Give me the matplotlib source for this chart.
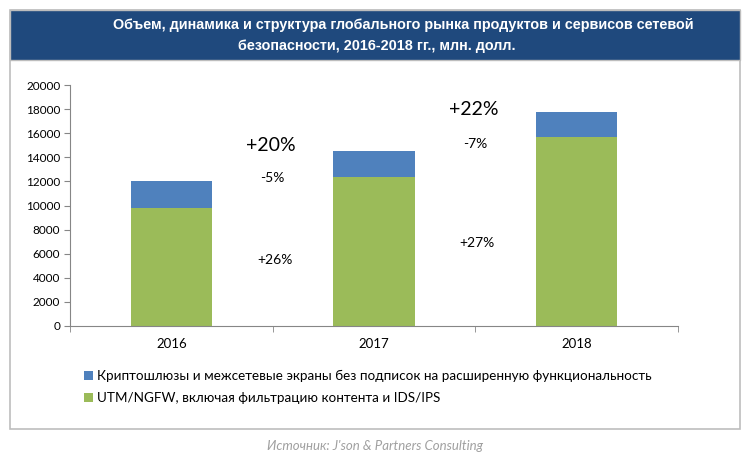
import matplotlib
matplotlib.use("Agg")
import matplotlib.pyplot as plt
from matplotlib.patches import Rectangle

years = ["2016", "2017", "2018"]
utm_ngfw = [9800, 12400, 15700]
crypto_fw = [2250, 2150, 2030]

total_growth = ["+20%", "+22%"]
crypto_growth = ["-5%", "-7%"]
utm_growth = ["+26%", "+27%"]

title_lines = ["Объем, динамика и структура глобального рынка продуктов и сервисов сетевой",
               "безопасности, 2016-2018 гг., млн. долл."]
labels = ["Криптошлюзы и межсетевые экраны без подписок на расширенную функциональность",
          "UTM/NGFW, включая фильтрацию контента и IDS/IPS"]
source = "Источник: J'son & Partners Consulting"

BLUE = "#4f81bd"
GREEN = "#9bbb59"
HEADER = "#1f497d"

plt.rcParams["font.family"] = ["Lato", "DejaVu Sans"]

W, H = 750, 463
fig = plt.figure(figsize=(W / 100, H / 100), dpi=100)

# outer frame and header band
fig.patches.append(Rectangle((10 / W, (H - 429) / H), 730 / W, 419 / H,
                             transform=fig.transFigure, fill=False,
                             edgecolor="#bdbdbd", linewidth=1.2))
fig.patches.append(Rectangle((10 / W, (H - 60) / H), 730 / W, 50 / H,
                             transform=fig.transFigure, facecolor=HEADER,
                             edgecolor="#bdbdbd", linewidth=1.0))
fig.text(403 / W, (H - 25) / H, title_lines[0], color="white", fontsize=10.4, fontweight="bold",
         ha="center", va="center", family=["Liberation Sans"])
fig.text(377 / W, (H - 46) / H, title_lines[1], color="white", fontsize=10.4, fontweight="bold",
         ha="center", va="center", family=["Liberation Sans"])

ax = fig.add_axes([70 / W, (H - 326) / H, 608 / W, 241 / H])
x = list(range(len(years)))
b1 = ax.bar(x, utm_ngfw, width=0.4, color=GREEN, zorder=2)
b2 = ax.bar(x, crypto_fw, width=0.4, bottom=utm_ngfw, color=BLUE, zorder=2)

ax.set_xlim(-0.5, len(years) - 0.5)
ax.set_ylim(0, 20000)
ax.set_yticks(range(0, 20001, 2000))
ax.set_xticks(x)
ax.set_xticklabels(years)
ax.set_xticks([i + 0.5 for i in range(-1, len(years))], minor=True)
ax.tick_params(axis="x", which="major", length=0, pad=9, labelsize=9.5)
ax.tick_params(axis="x", which="minor", length=4, color="#868686")
ax.tick_params(axis="y", length=4, color="#868686", labelsize=8.5, pad=3)
for s in ["top", "right"]:
    ax.spines[s].set_visible(False)
ax.spines["left"].set_color("#868686")
ax.spines["bottom"].set_color("#868686")

# growth annotations between bars
for i in range(len(total_growth)):
    xm = i + 0.5
    ax.text(xm - 0.01, 15000 + 3000 * i, total_growth[i], fontsize=14, ha="center", va="center")
    ax.text(xm, 12300 + 2800 * i, crypto_growth[i], fontsize=10, ha="center", va="center")
    ax.text(xm + 0.01, 5500 + 1400 * i, utm_growth[i], fontsize=10, ha="center", va="center")

fig.legend([b2, b1], labels, loc="upper left", bbox_to_anchor=(84 / W, (H - 370) / H),
           frameon=False, fontsize=9.7, handlelength=0.65, handleheight=0.65,
           handletextpad=0.35, labelspacing=0.75, borderpad=0, borderaxespad=0)

fig.text(0.5, (H - 446) / H, source, color="#a0a0a0", fontsize=9.5, style="italic",
         ha="center", va="center")

fig.savefig("out.png", dpi=100)
